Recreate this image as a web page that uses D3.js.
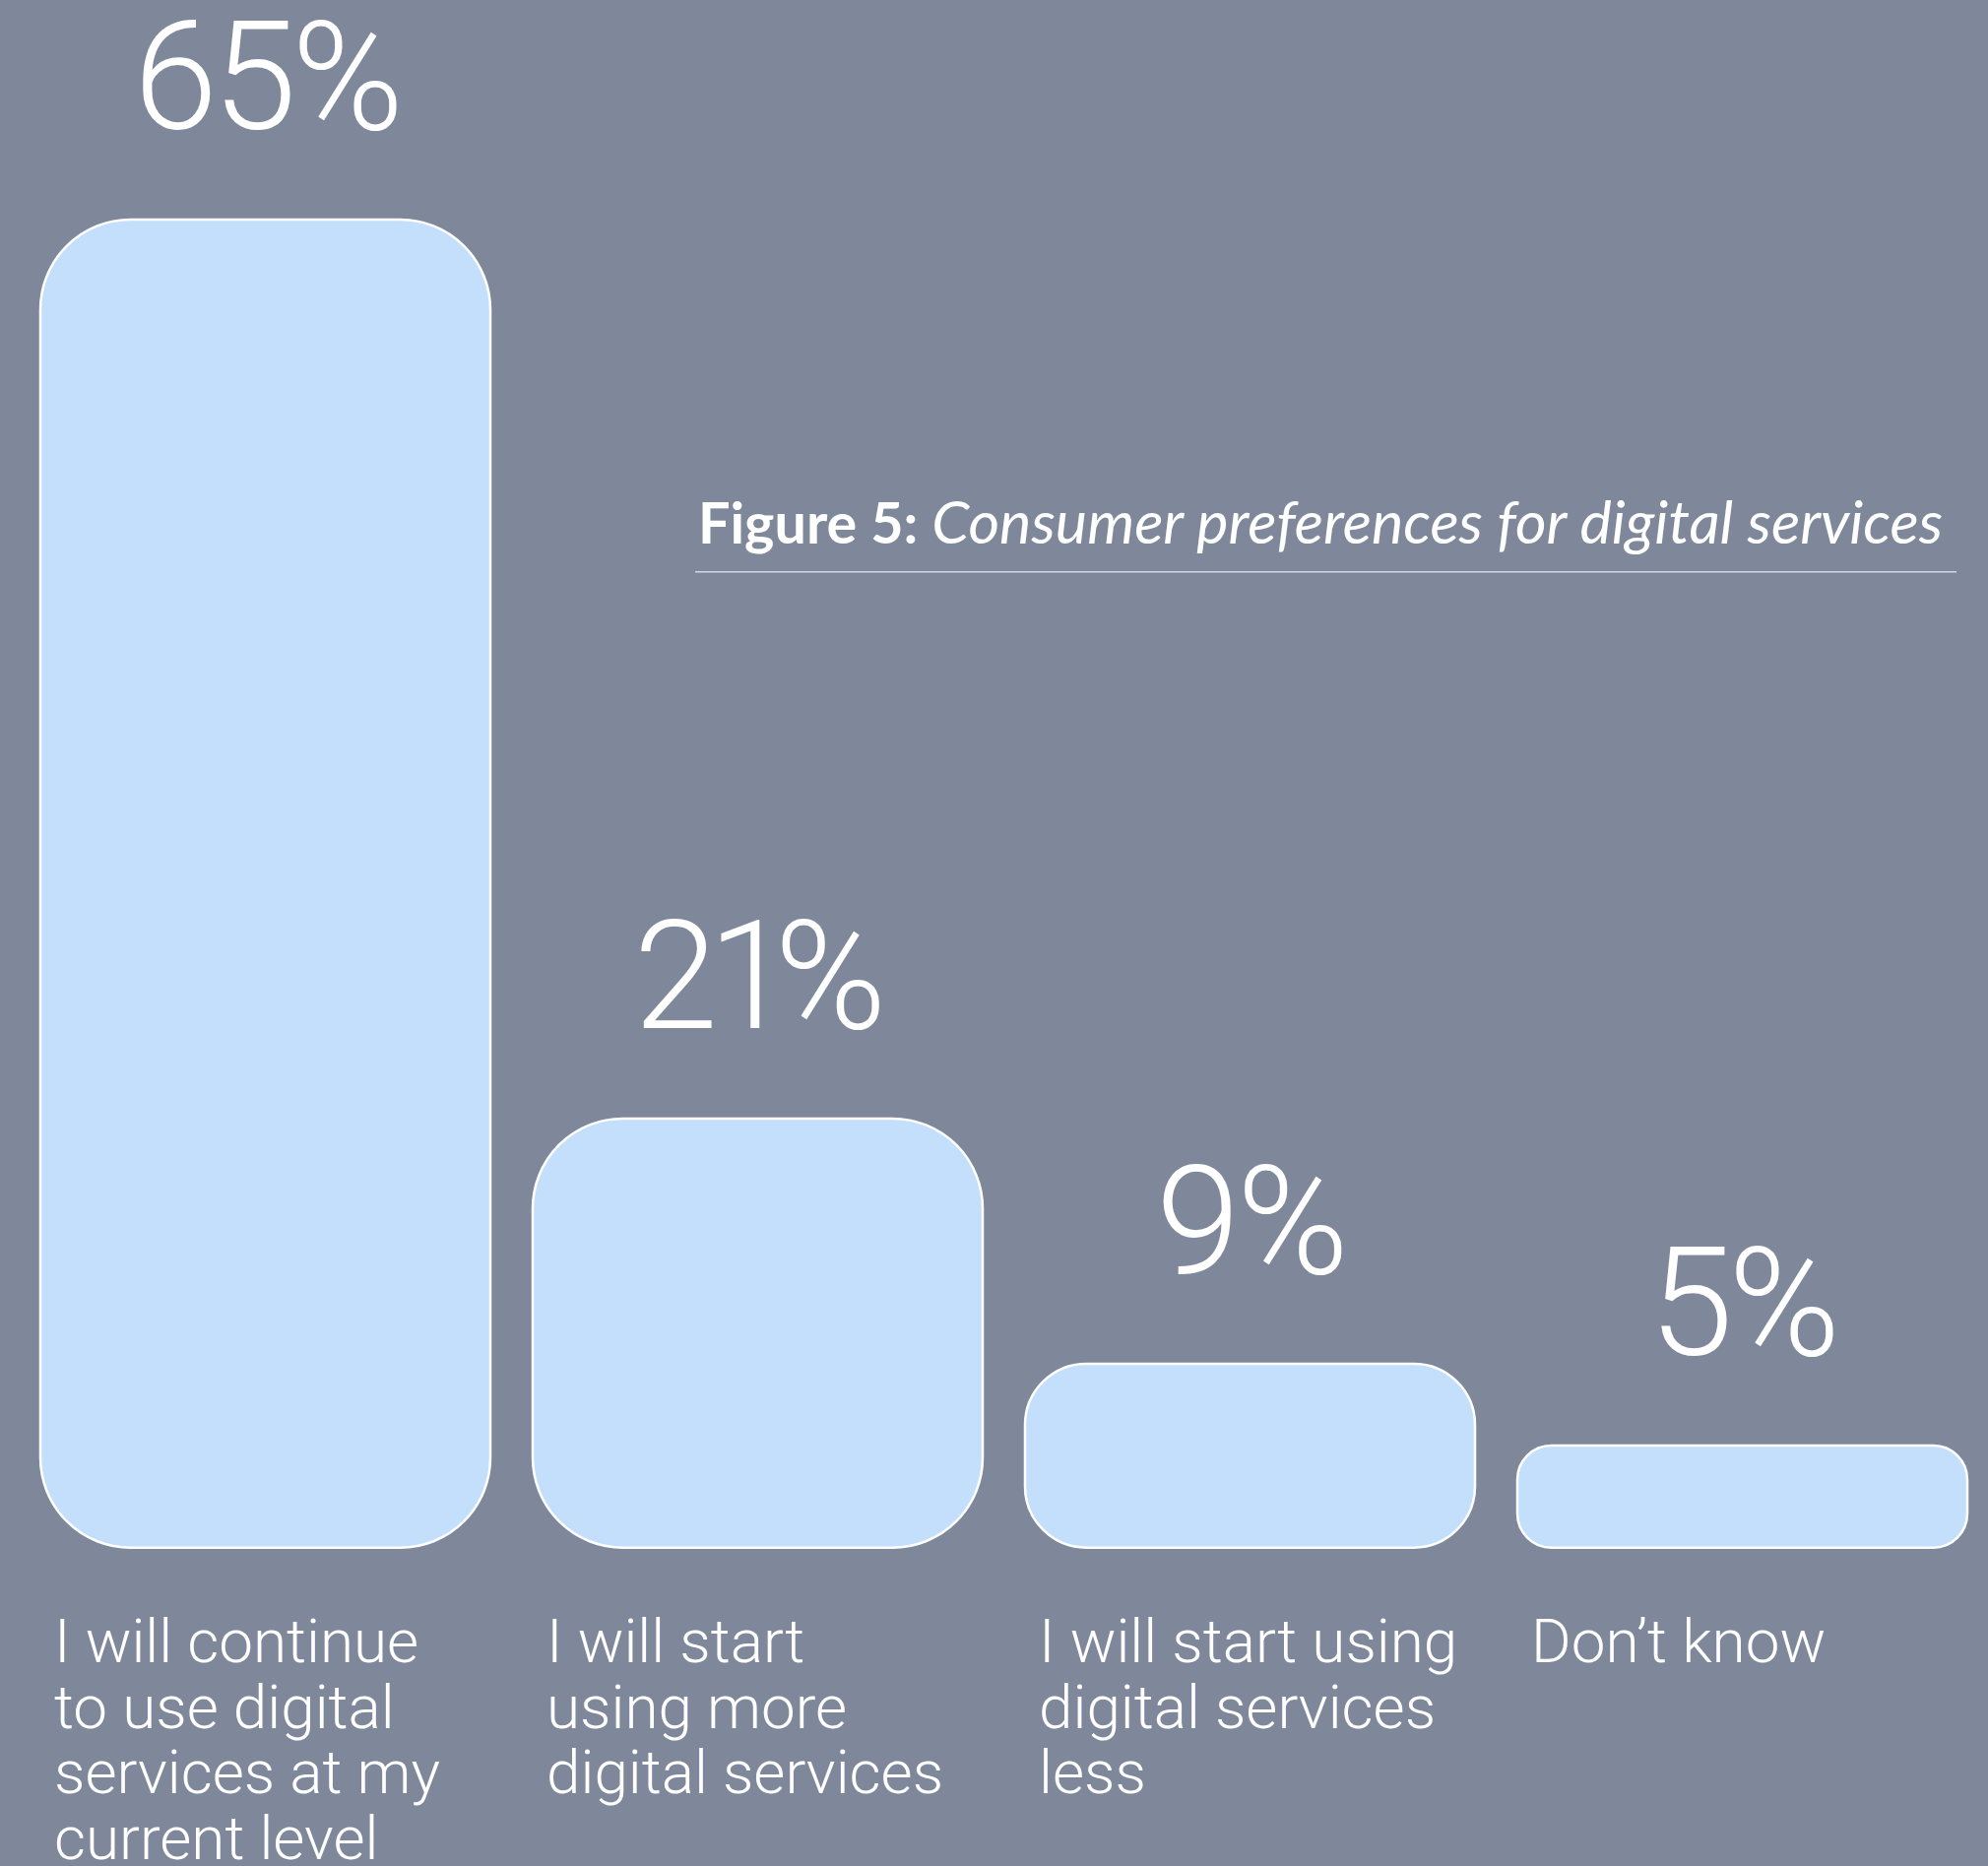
<!DOCTYPE html>
<html>
<head>
<meta charset="utf-8">
<script src="https://cdn.jsdelivr.net/npm/d3@7"></script>
<style>
  html, body { margin: 0; padding: 0; background: #7f889b; }
  svg { display: block; }
</style>
</head>
<body>
<svg id="chart" width="2019" height="1895"></svg>
<script>
// Survey answers and their shares (percent of respondents)
const categories = [
  ["I will continue", "to use digital", "services at my", "current level"],
  ["I will start", "using more", "digital services"],
  ["I will start using", "digital services", "less"],
  ["Don\u2019t know"]
];
const values = [65, 21, 9, 5];
const valueLabels = ["65%", "21%", "9%", "5%"];
const titleBold = "Figure 5:";
const titleItalic = "Consumer preferences for digital services";

const W = 2019, H = 1895;
const BG = "#7f889b", BAR = "#c4dffb", INK = "#ffffff";

const svg = d3.select("#chart");
svg.append("rect").attr("width", W).attr("height", H).attr("fill", BG);

const x = d3.scaleBand()
  .domain(d3.range(values.length))
  .range([41, 1998])
  .paddingInner(0.086)
  .paddingOuter(0);

const y = d3.scaleLinear()
  .domain([0, d3.max(values)])
  .range([1571.7, 223]);

const bw = x.bandwidth();
const corner = d => Math.min(bw * 0.2, (y(0) - y(d)) / 3);

// Rounded bars
svg.append("g").selectAll("rect")
  .data(values)
  .join("rect")
  .attr("x", (d, i) => x(i))
  .attr("y", d => y(d))
  .attr("width", bw)
  .attr("height", d => y(0) - y(d))
  .attr("rx", corner)
  .attr("ry", corner)
  .attr("fill", BAR)
  .attr("stroke", INK)
  .attr("stroke-width", 2.5);

// Percentage labels above bars
svg.append("g").selectAll("text")
  .data(values)
  .join("text")
  .attr("x", (d, i) => x(i) + bw / 2)
  .attr("y", d => y(d) - 92)
  .attr("text-anchor", "middle")
  .attr("font-family", "Roboto, 'Open Sans', sans-serif")
  .attr("font-weight", 300)
  .attr("font-size", 154)
  .attr("letter-spacing", -5)
  .style("font-feature-settings", "'pnum' 1")
  .attr("fill", INK)
  .text((d, i) => valueLabels[i]);

// Category labels below bars
const lineStep = 66.7;
const catG = svg.append("g")
  .attr("font-family", "Roboto, 'Open Sans', sans-serif")
  .attr("font-weight", 300)
  .attr("font-size", 62)
  .attr("fill", INK);
catG.selectAll("text")
  .data(categories)
  .join("text")
  .attr("x", (d, i) => x(i) + 14)
  .attr("y", 1688)
  .selectAll("tspan")
  .data(d => d)
  .join("tspan")
  .attr("x", function () { return d3.select(this.parentNode).attr("x"); })
  .attr("dy", (d, j) => j === 0 ? 0 : lineStep)
  .text(d => d);

// Figure title with rule underneath
const title = svg.append("text")
  .attr("x", 709)
  .attr("y", 552)
  .attr("font-family", "Lato, 'Open Sans', sans-serif")
  .attr("fill", INK);
title.append("tspan").attr("font-weight", 700).attr("font-size", 57.5).text(titleBold + " ");
title.append("tspan").attr("font-style", "italic").attr("font-size", 61).text(titleItalic);

svg.append("line")
  .attr("x1", 706).attr("x2", 1987)
  .attr("y1", 580.7).attr("y2", 580.7)
  .attr("stroke", "#d3d7df")
  .attr("stroke-width", 1.6);
</script>
</body>
</html>
